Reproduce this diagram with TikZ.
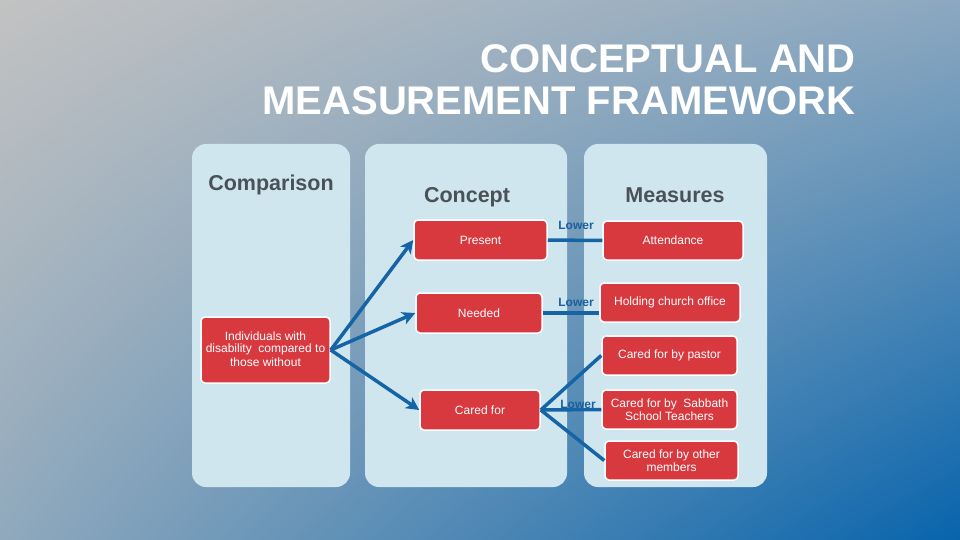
\documentclass[tikz,border=0pt]{standalone}
\usepackage{fontspec}
\setmainfont{Liberation Sans}
\usetikzlibrary{arrows.meta,shadings}
\definecolor{bgTL}{HTML}{C2C2C2}
\definecolor{bgTR}{HTML}{8CA8C0}
\definecolor{bgBL}{HTML}{90A9BD}
\definecolor{bgBR}{HTML}{0864AC}
\definecolor{panelc}{HTML}{D0E6EF}
\definecolor{redc}{HTML}{D7393F}
\definecolor{hdrc}{HTML}{4A5258}
\definecolor{linec}{HTML}{1565A6}
\definecolor{lowerc}{HTML}{1A5F9E}
\begin{document}
\begin{tikzpicture}[x=1pt,y=-1pt,
  panel/.style={fill=panelc, rounded corners=14pt},
  redbox/.style={draw=white, line width=1.5pt, fill=redc, rounded corners=4pt, text=white,
    font=\fontsize{12}{13}\selectfont, align=center, inner sep=0pt},
  hdr/.style={text=hdrc, font=\fontsize{21.5}{24}\selectfont\bfseries, anchor=base},
  titletext/.style={text=white, font=\fontsize{40}{42}\selectfont\bfseries, anchor=base east, inner sep=0pt},
  lowerlbl/.style={text=lowerc, font=\fontsize{12}{13}\selectfont\bfseries, anchor=base, inner sep=0pt},
  conn/.style={draw=linec, line width=3.5pt},
  arr/.style={conn, -{Stealth[length=13pt,width=13pt,inset=3.5pt]}}]
\useasboundingbox (0,0) rectangle (960,540);
\shade[upper left=bgTL, upper right=bgTR, lower left=bgBL, lower right=bgBR] (0,0) rectangle (960,540);

% title
\node[titletext] (title1) at (856,73) {CONCEPTUAL AND};
\node[titletext] (title2) at (856,115) {MEASUREMENT FRAMEWORK};

% panels
\path[panel] (192,144) rectangle (350,487);
\path[panel] (365,144) rectangle (567,487);
\path[panel] (584,144) rectangle (767,487);

% headers
\node[hdr] (hcomp) at (271,190) {Comparison};
\node[hdr] (hconc) at (467,202) {Concept};
\node[hdr] (hmeas) at (675,202) {Measures};

% boxes
\node[redbox, minimum width=129pt, minimum height=66pt] (indiv) at (265.5,350)
  {\raisebox{2pt}{\shortstack{Individuals with\\disability\ \ compared to\\those without}}};
\node[redbox, minimum width=133pt, minimum height=40pt] (present) at (480.5,240) {Present};
\node[redbox, minimum width=126pt, minimum height=40pt] (needed) at (479,313) {Needed};
\node[redbox, minimum width=120pt, minimum height=40pt] (caredfor) at (480,410) {Cared for};
\node[redbox, minimum width=140pt, minimum height=39pt] (attend) at (673,240.5) {Attendance};
\node[redbox, minimum width=140pt, minimum height=39pt] (holding) at (670,302.5) {Holding church office};
\node[redbox, minimum width=135pt, minimum height=39pt] (pastor) at (669.5,355.5) {Cared for by pastor};
\node[redbox, minimum width=135pt, minimum height=39pt] (sabbath) at (669.5,409.5) {Cared for by\ \ Sabbath\\School Teachers};
\node[redbox, minimum width=133pt, minimum height=39pt] (other) at (671.5,460.5) {Cared for by other\\members};

% lower labels
\node[lowerlbl] (low1) at (576,229) {Lower};
\node[lowerlbl] (low2) at (576,306) {Lower};
\node[lowerlbl] (low3) at (578,408) {Lower};

% connectors
\draw[arr] (indiv.east) -- (present.west);
\draw[arr] (indiv.east) -- (needed.west);
\draw[arr] (indiv.east) -- (caredfor.west);
\draw[conn] (present.east) -- (attend.west);
\draw[conn] (needed.east) -- (needed.east -| holding.west);
\draw[conn] (caredfor.east) -- (pastor.west);
\draw[conn] (caredfor.east) -- (sabbath.west);
\draw[conn] (caredfor.east) -- (other.west);
\end{tikzpicture}
\end{document}
